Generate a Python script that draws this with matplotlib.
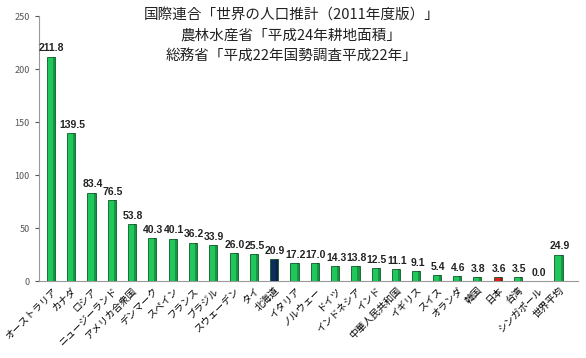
import matplotlib
matplotlib.use('Agg')
import matplotlib.pyplot as plt
import numpy as np

plt.rcParams['font.family'] = ['Noto Sans CJK JP', 'DejaVu Sans']

countries = ['オーストラリア', 'カナダ', 'ロシア', 'ニュージーランド', 'アメリカ合衆国',
             'デンマーク', 'スペイン', 'フランス', 'ブラジル', 'スウェーデン', 'タイ',
             '北海道', 'イタリア', 'ノルウェー', 'ドイツ', 'インドネシア', 'インド',
             '中華人民共和国', 'イギリス', 'スイス', 'オランダ', '韓国', '日本', '台湾',
             'シンガポール', '世界平均']
values = [211.8, 139.5, 83.4, 76.5, 53.8, 40.3, 40.1, 36.2, 33.9, 26.0, 25.5,
          20.9, 17.2, 17.0, 14.3, 13.8, 12.5, 11.1, 9.1, 5.4, 4.6, 3.8, 3.6, 3.5,
          0.0, 24.9]
title_lines = ['国際連合「世界の人口推計（2011年度版）」',
               '農林水産省「平成24年耕地面積」',
               '総務省「平成22年国勢調査平成22年」']

green = '#20c85c'
colors = [green] * len(values)
colors[countries.index('北海道')] = '#0e2d5a'
colors[countries.index('日本')] = '#e41a1a'

fig = plt.figure(figsize=(5.86, 3.58), dpi=100)
ax = fig.add_axes([0.066, 0.215, 0.92, 0.74])

x = np.arange(len(values))
ax.bar(x, values, width=0.4, color=colors, edgecolor='#0b5a25', linewidth=0.6, zorder=3)
# simple side shading for a 3D look
ax.bar(x + 0.15, values, width=0.1, color='black', alpha=0.25, linewidth=0, zorder=4)

for xi, v in zip(x, values):
    ax.text(xi + 0.05, v + 3, f'{v:.1f}', ha='center', va='bottom', fontsize=7.5,
            fontweight='bold', family='Liberation Sans', color='#222222')

ax.set_xlim(-0.6, len(values) - 0.05)
ax.set_ylim(0, 250)
ax.set_yticks([0, 50, 100, 150, 200, 250])
ax.tick_params(axis='y', labelsize=6.5, colors='#555555', length=3)
ax.set_xticks(x)
ax.set_xticklabels(countries, rotation=45, ha='right', rotation_mode='anchor', fontsize=7)
ax.tick_params(axis='x', length=0, pad=3)

for s in ['top', 'right']:
    ax.spines[s].set_visible(False)
ax.spines['left'].set_color('#999999')
ax.spines['bottom'].set_color('#999999')

fig.text(0.497, 0.975, '\n'.join(title_lines), ha='center', va='top', fontsize=10.5,
         linespacing=1.55, color='#222222')

fig.savefig('out.png', dpi=100)
